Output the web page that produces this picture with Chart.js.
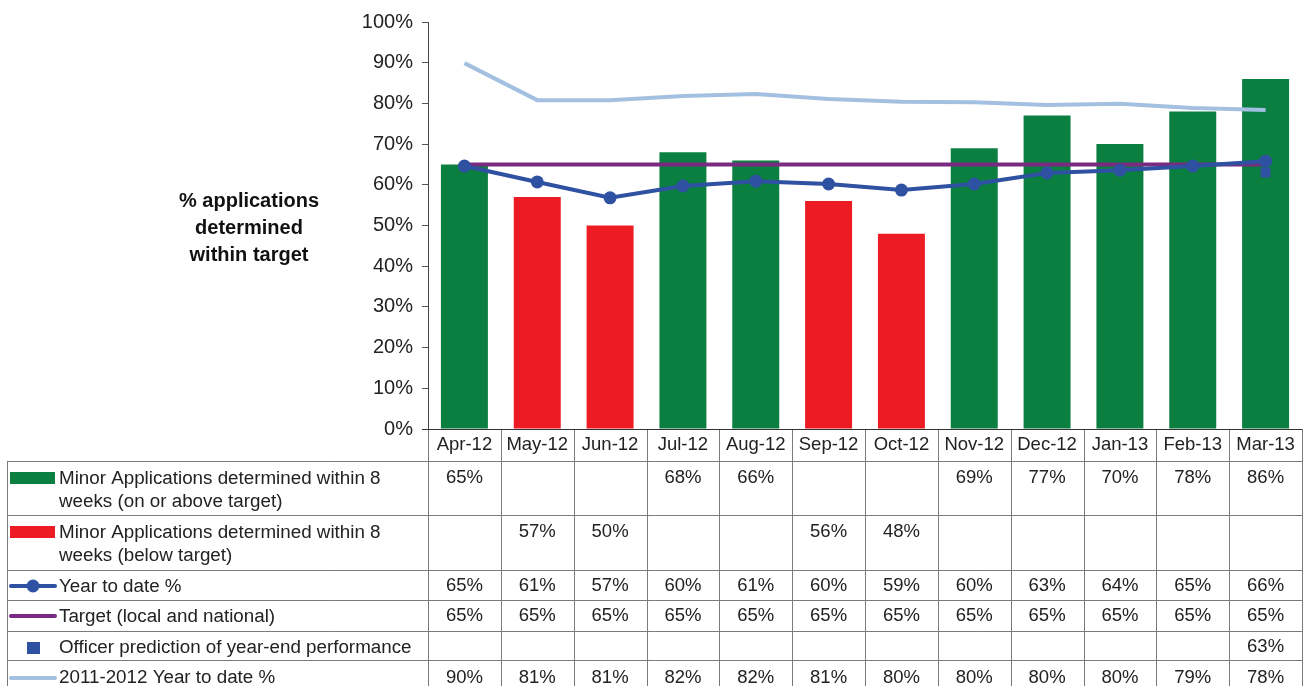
<!DOCTYPE html>
<html><head><meta charset="utf-8">
<script src="https://cdn.jsdelivr.net/npm/chart.js@4.4.1/dist/chart.umd.min.js"></script>
<style>html,body{margin:0;padding:0;background:#fff}#wrap{width:1304px;height:686px;position:relative}</style>
</head><body><div id="wrap"><canvas id="c"></canvas></div>
<script>
const categories = ['Apr-12','May-12','Jun-12','Jul-12','Aug-12','Sep-12','Oct-12','Nov-12','Dec-12','Jan-13','Feb-13','Mar-13'];
const aboveTarget = [65,null,null,68,66,null,null,69,77,70,78,86];
const belowTarget = [null,57,50,null,null,56,48,null,null,null,null,null];
const yearToDate = [64.6,60.7,56.8,59.7,60.9,60.2,58.7,60.2,62.9,63.6,64.6,65.8];
const targetLine = [65,65,65,65,65,65,65,65,65,65,65,65];
const officerPrediction = [null,null,null,null,null,null,null,null,null,null,null,63];
const prevYearToDate = [89.9,80.8,80.8,81.8,82.3,81.1,80.4,80.3,79.6,79.9,78.9,78.4];
const yTickValues = [0,10,20,30,40,50,60,70,80,90,100];
const yAxisTitle = ['% applications','determined','within target'];
const seriesLabels = [
  ['Minor Applications determined within 8','weeks (on or above target)'],
  ['Minor Applications determined within 8','weeks (below target)'],
  ['Year to date %'],
  ['Target (local and national)'],
  ['Officer prediction of year-end performance'],
  ['2011-2012 Year to date %']
];

const C = {green:'#0b7f3f', red:'#ed1c24', blue:'#2e51a2', purple:'#7b2a82', light:'#a4c0e0'};
const FONT = '"Liberation Sans", Arial, Helvetica, sans-serif';

const fmt = v => (v===null||v===undefined) ? '' : Math.round(v)+'%';

const tablePlugin = {
  id:'tablePlugin',
  afterDraw(chart){
    const ctx = chart.ctx, xs = chart.scales.x, area = chart.chartArea;
    const n = categories.length, colW = (area.right-area.left)/n;
    const L = 7, top = area.bottom, R = area.right;
    const rows = [461,515,570,600,631,660,700];
    ctx.save();
    // y axis title
    ctx.fillStyle = '#111';
    ctx.font = 'bold 20px '+FONT;
    ctx.textAlign='center'; ctx.textBaseline='middle';
    yAxisTitle.forEach((t,i)=>ctx.fillText(t, 249, 201+i*27));
    // grid lines
    ctx.strokeStyle = '#7a7a7a'; ctx.lineWidth = 1;
    ctx.beginPath();
    for(let i=0;i<=n;i++){ const xx = Math.round(area.left+i*colW)+0.5; ctx.moveTo(xx, top); ctx.lineTo(xx, 686); }
    ctx.moveTo(L+0.5, rows[0]); ctx.lineTo(L+0.5, 686);
    for(let r=0;r<6;r++){ ctx.moveTo(L, rows[r]+0.5); ctx.lineTo(R, rows[r]+0.5); }
    ctx.stroke();
    ctx.strokeStyle = '#333';
    ctx.beginPath(); ctx.moveTo(area.left-6, top+0.5); ctx.lineTo(R, top+0.5); ctx.stroke();
    // header labels
    ctx.fillStyle = '#222';
    ctx.font = '18.5px '+FONT;
    ctx.textAlign='center'; ctx.textBaseline='middle';
    categories.forEach((c,i)=>ctx.fillText(c, xs.getPixelForValue(i), 445));
    // row values
    const rowData = [aboveTarget, belowTarget, yearToDate, targetLine, officerPrediction, prevYearToDate];
    const valY = [478, 532, 586, 616, 647, 678];
    rowData.forEach((arr,r)=>{
      arr.forEach((v,i)=>{ const s = fmt(v); if(s) ctx.fillText(s, xs.getPixelForValue(i), valY[r]); });
    });
    // legend labels
    ctx.textAlign='left';
    ctx.font = '18.8px '+FONT;
    const labY = [[479,502],[533,556],[587],[617],[648],[678]];
    seriesLabels.forEach((lines,r)=>lines.forEach((t,k)=>ctx.fillText(t, 59, labY[r][k])));
    // legend symbols
    ctx.fillStyle = C.green; ctx.fillRect(10, 472, 45, 12);
    ctx.fillStyle = C.red; ctx.fillRect(10, 526, 45, 12);
    ctx.lineWidth = 4; ctx.lineCap='round';
    ctx.strokeStyle = C.blue; ctx.beginPath(); ctx.moveTo(11,586); ctx.lineTo(55,586); ctx.stroke();
    ctx.fillStyle = C.blue; ctx.beginPath(); ctx.arc(33,586,6.5,0,Math.PI*2); ctx.fill();
    ctx.strokeStyle = C.purple; ctx.beginPath(); ctx.moveTo(11,616); ctx.lineTo(55,616); ctx.stroke();
    ctx.fillStyle = C.blue; ctx.fillRect(27, 642, 13, 12);
    ctx.strokeStyle = C.light; ctx.beginPath(); ctx.moveTo(11,678); ctx.lineTo(55,678); ctx.stroke();
    ctx.restore();
  }
};

new Chart(document.getElementById('c'), {
  type:'bar',
  data:{
    labels: categories,
    datasets:[
      {label:seriesLabels[0].join(' '), data:aboveTarget, backgroundColor:C.green, grouped:false, order:10, categoryPercentage:1, barPercentage:0.645},
      {label:seriesLabels[1].join(' '), data:belowTarget, backgroundColor:C.red, grouped:false, order:9, categoryPercentage:1, barPercentage:0.645},
      {type:'line', label:seriesLabels[5][0], data:prevYearToDate, borderColor:C.light, borderWidth:4, pointRadius:0, tension:0, order:5},
      {type:'line', label:seriesLabels[3][0], data:targetLine, borderColor:C.purple, borderWidth:4, pointRadius:0, tension:0, order:4},
      {type:'line', label:seriesLabels[2][0], data:yearToDate, borderColor:C.blue, backgroundColor:C.blue, borderWidth:4, pointRadius:6.5, pointBorderWidth:0, pointBackgroundColor:C.blue, tension:0, order:3},
      {type:'line', label:seriesLabels[4][0], data:officerPrediction, showLine:false, pointStyle:'rect', pointRadius:7, pointBackgroundColor:C.blue, pointBorderWidth:0, order:1}
    ]
  },
  options:{
    responsive:true, maintainAspectRatio:false, animation:false,
    layout:{autoPadding:false, padding:{top:22, bottom:257, left:0, right:2}},
    plugins:{legend:{display:false}, tooltip:{enabled:false}},
    scales:{
      x:{display:false, offset:true},
      y:{
        min:0, max:100,
        afterFit(s){ s.width = 428; },
        afterBuildTicks(s){ s.ticks = yTickValues.map(v=>({value:v})); },
        ticks:{callback:v=>v+'%', font:{family:'"Liberation Sans", Arial, sans-serif', size:20}, color:'#222', padding:9},
        grid:{drawOnChartArea:false, drawTicks:true, tickLength:6, color:'#555'},
        border:{display:true, color:'#444', width:1}
      }
    }
  },
  plugins:[tablePlugin]
});
</script>
</body></html>
